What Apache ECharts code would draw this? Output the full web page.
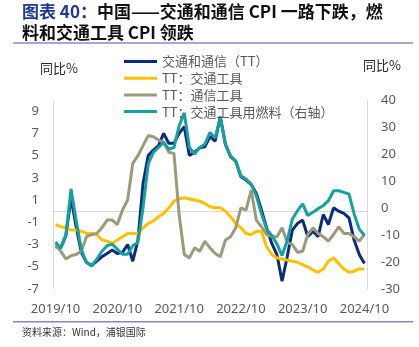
<!DOCTYPE html>
<html><head><meta charset="utf-8">
<script src="https://cdn.jsdelivr.net/npm/echarts@6/dist/echarts.min.js"></script>
<style>html,body{margin:0;padding:0;background:#fff}#c{width:419px;height:347px}</style>
</head><body><div id="c"></div>
<script>
const months = ['2019/10','2019/11','2019/12','2020/01','2020/02','2020/03','2020/04','2020/05','2020/06','2020/07','2020/08','2020/09',
'2020/10','2020/11','2020/12','2021/01','2021/02','2021/03','2021/04','2021/05','2021/06','2021/07','2021/08','2021/09',
'2021/10','2021/11','2021/12','2022/01','2022/02','2022/03','2022/04','2022/05','2022/06','2022/07','2022/08','2022/09',
'2022/10','2022/11','2022/12','2023/01','2023/02','2023/03','2023/04','2023/05','2023/06','2023/07','2023/08','2023/09',
'2023/10','2023/11','2023/12','2024/01','2024/02','2024/03','2024/04','2024/05','2024/06','2024/07','2024/08','2024/09',
'2024/10'];
const leftTickLabels = ['-7','-5','-3','-1','1','3','5','7','9'];
const seriesNames = ['交通和通信（TT）','TT：交通工具','TT：通信工具','TT：交通工具用燃料（右轴）'];
// 交通和通信 (left axis)
const transportComm = [-3.2,-3.3,-2.2,1.2,-1.4,-3.7,-4.6,-4.9,-4.5,-4.1,-3.8,-3.5,
 -3.8,-3.7,-3.0,-4.5,-2.6,2.5,5.0,5.5,5.9,7.0,6.1,6.1,
 7.0,7.6,5.0,5.3,5.7,5.8,6.7,6.3,8.5,6.0,4.9,4.5,
 3.1,2.8,2.4,1.6,0.1,-1.5,-2.9,-3.9,-6.3,-4.1,-1.7,-1.1,
 -0.8,-2.3,-1.8,-2.3,-0.3,-1.2,0.3,0.0,-0.2,-0.6,-2.6,-3.9,
 -4.7];
// 交通工具 (left axis)
const vehicles = [-1.2,-1.4,-1.5,-1.7,-1.7,-1.8,-2.0,-2.0,-2.1,-2.6,-2.7,-2.9,
 -2.6,-2.3,-2.0,-2.0,-2.0,-1.5,-1.1,-0.9,-0.5,-0.2,0.3,0.9,
 1.1,1.2,1.1,1.0,0.9,0.7,0.4,0.3,0.3,0.0,-0.5,-1.1,
 -1.5,-2.0,-2.1,-1.8,-1.8,-3.2,-3.9,-4.2,-4.3,-4.4,-4.5,-4.6,
 -4.8,-5.0,-5.3,-5.5,-5.2,-4.5,-4.2,-4.7,-5.2,-5.5,-5.4,-5.2,
 -5.2];
// 通信工具 (left axis)
const commTools = [-3.0,-3.6,-4.3,-4.0,-3.9,-3.6,-2.3,-2.1,-2.0,-1.5,-0.8,-0.8,
 -1.2,0.1,1.0,4.3,5.0,5.9,6.8,6.7,6.4,6.2,5.3,5.2,
 -0.3,-3.9,-4.2,-3.3,-3.6,-2.7,-3.3,-3.8,-4.1,-2.6,-2.3,-1.5,
 0.3,0.1,1.9,-0.8,-1.4,-2.1,-2.3,-2.3,-1.5,-2.8,-3.0,-3.7,
 -3.6,-2.1,-1.5,-2.0,-2.3,-2.7,-2.1,-1.4,-2.0,-2.0,-2.3,-2.7,
 -2.1];
// 交通工具用燃料 (right axis)
const fuel = [-12.6,-15.0,-10.0,7.1,-4.6,-15.3,-20.2,-21.4,-19.0,-16.0,-14.0,-13.4,
 -15.3,-17.1,-17.1,-14.0,-12.8,0.3,16.3,20.6,22.4,24.3,21.8,22.4,
 30.4,35.3,22.4,20.0,22.4,23.6,28.0,25.9,33.5,23.6,19.3,17.4,
 11.9,10.7,8.8,4.5,-2.2,-7.8,-10.2,-13.3,-17.6,-12.1,-4.1,-1.0,
 1.5,-2.8,-1.6,-0.3,0.9,2.7,6.4,6.4,5.8,5.2,-2.2,-7.8,
 -10.2];

const colors = ['#0d2b7a','#ffc000','#9b9b7b','#14a1a0'];
const FONT = '"Noto Sans", "Noto Sans CJK SC", sans-serif';
const CJK = '"Noto Sans CJK SC", sans-serif';
const chart = echarts.init(document.getElementById('c'), null, {renderer:'canvas'});
const lineSeries = (name, data, color, yIdx) => ({
  name, type:'line', data, yAxisIndex:yIdx, xAxisIndex:0, symbol:'none', smooth:false,
  lineStyle:{color, width:3}, itemStyle:{color}, emphasis:{disabled:true}, animation:false
});
chart.setOption({
  animation:false,
  backgroundColor:'#ffffff',
  textStyle:{fontFamily:FONT},
  grid:{left:53, right:52, top:100, bottom:58, containLabel:false},
  legend:{
    orient:'vertical', left:119, top:50, icon:'rect', itemWidth:33, itemHeight:3, itemGap:3.7,
    textStyle:{color:'#595959', fontSize:13, lineHeight:13, fontFamily:CJK},
    data:seriesNames
  },
  xAxis:[{
    type:'category', data:months, boundaryGap:true,
    axisLine:{show:false}, axisTick:{show:false}, splitLine:{show:false},
    axisLabel:{interval:11, color:'#595959', fontSize:13, margin:14, fontFamily:FONT}
  },{
    type:'category', data:months, boundaryGap:true, position:'bottom',
    axisLine:{show:true, onZero:true, onZeroAxisIndex:0, lineStyle:{color:'#d9d9d9', width:1}},
    axisTick:{show:false}, axisLabel:{show:false}, splitLine:{show:false}
  }],
  yAxis:[{
    type:'value', min:-7, max:10, interval:1, position:'left',
    axisLine:{show:true, lineStyle:{color:'#d9d9d9', width:1}}, axisTick:{show:false}, splitLine:{show:false},
    axisLabel:{color:'#595959', fontSize:13, margin:14, fontFamily:FONT,
      formatter: v => leftTickLabels.includes(String(v)) ? String(v) : ''}
  },{
    type:'value', min:-30, max:40, interval:10, position:'right',
    axisLine:{show:true, lineStyle:{color:'#d9d9d9', width:1}}, axisTick:{show:false}, splitLine:{show:false},
    axisLabel:{color:'#595959', fontSize:13, margin:14, fontFamily:FONT}
  }],
  series:[
    lineSeries(seriesNames[0], transportComm, colors[0], 0),
    lineSeries(seriesNames[1], vehicles, colors[1], 0),
    lineSeries(seriesNames[2], commTools, colors[2], 0),
    lineSeries(seriesNames[3], fuel, colors[3], 1)
  ],
  graphic:[
    {type:'text', left:22, top:3, style:{
      text:'{a|图表 40：}{b|中国——交通和通信 CPI 一路下跌，燃}',
      rich:{a:{fill:'#1f3b8f', fontSize:17, fontWeight:'bold', fontFamily:CJK},
            b:{fill:'#111111', fontSize:17, fontWeight:'bold', fontFamily:CJK}}}},
    {type:'text', left:22, top:24, style:{text:'料和交通工具 CPI 领跌', fill:'#111111', fontSize:17, fontWeight:'bold', fontFamily:CJK}},
    {type:'rect', shape:{x:13, y:42, width:400, height:2}, style:{fill:'#a9a7d2'}},
    {type:'text', left:40, top:62, style:{text:'同比%', fill:'#262626', fontSize:13, fontFamily:CJK}},
    {type:'text', left:363, top:59, style:{text:'同比%', fill:'#262626', fontSize:13, fontFamily:CJK}},
    {type:'rect', shape:{x:13, y:321, width:400, height:1.5}, style:{fill:'#8c86b8'}},
    {type:'text', left:22, top:327, style:{text:'资料来源：Wind，浦银国际', fill:'#333333', fontSize:10, fontFamily:CJK}}
  ]
});
</script></body></html>
